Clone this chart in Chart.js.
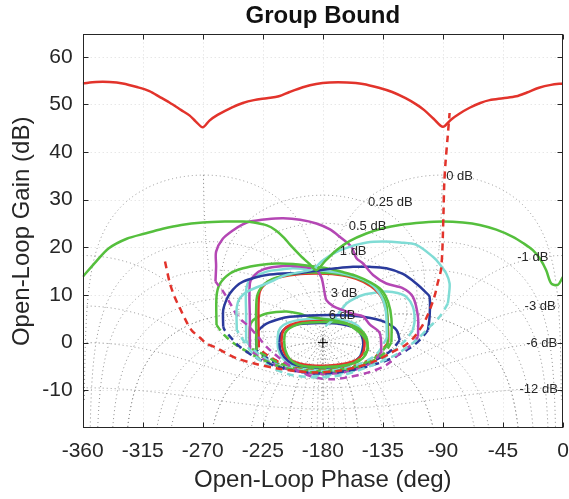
<!DOCTYPE html>
<html><head><meta charset="utf-8">
<script src="https://cdn.jsdelivr.net/npm/chart.js@4/dist/chart.umd.min.js"></script>
<style>html,body{margin:0;padding:0;background:#fff;}canvas{display:block;}</style>
</head><body>
<canvas id="c" width="569" height="499"></canvas>
<script>
const FONT = "'Liberation Sans', Arial, Helvetica, sans-serif";

// ---- axes ----
const xTickValues = [-360, -315, -270, -225, -180, -135, -90, -45, 0];
const yTickValues = [-10, 0, 10, 20, 30, 40, 50, 60];

// ---- Nichols grid definition ----
const mContoursDb = [6, 3, 1, 0.5, 0.25, 0, -1, -3, -6, -12, -20];
const nContoursDeg = [-1, -5, -10, -20, -30, -50, -90, -120, -150, -180, -210, -240, -270, -310, -330, -340, -350, -355, -359];
const gridLabelText = ['0 dB', '0.25 dB', '0.5 dB', '1 dB', '3 dB', '6 dB', '-1 dB', '-3 dB', '-6 dB', '-12 dB'];
const gridLabelPhase = [-87.5, -146.2, -160.6, -167.3, -174.1, -175.6, -34.3, -28.8, -27.6, -32.6];
const gridLabelGain = [34.8, 29.4, 24.3, 19.1, 10.3, 5.8, 17.9, 7.5, -0.2, -9.8];

// ---- bound curves: [phase deg, gain dB] ----
const redUpper = [[-360,54.4],[-350,54.7],[-340,54.7],[-330,54.4],[-318.7,53.6],[-310,52.8],[-302.4,51.6],[-295,50.4],[-286.1,48.8],[-280,47.7],[-275.2,46.4],[-270,45.2],[-265,46.6],[-258.9,47.8],[-248,49.4],[-240,50.3],[-231.7,50.9],[-222,51.3],[-213,51.7],[-205,52.6],[-195,53.6],[-185,54.3],[-175,54.6],[-162,54.6],[-150,54.3],[-138,53.5],[-128,52.6],[-118,51.3],[-110,50],[-104,48.8],[-97,47],[-90,45.3],[-84,46.8],[-78,48],[-70,49.3],[-62,50.3],[-55,50.9],[-45,51.3],[-35,51.7],[-27,52.5],[-18,53.5],[-9,54.1],[0,54.4]];
const redLower = [[-298.3,17],[-294.6,12.4],[-291,9.5],[-287.1,7.2],[-283,4.8],[-278.4,2.6],[-272,1],[-267.2,-0.2],[-260,-1.1],[-254.7,-1.9],[-244.7,-3.3],[-230,-4.5],[-215,-5.4],[-200,-6],[-185,-6.3],[-170,-6],[-155,-5.2],[-140,-3.8],[-128,-2],[-118,-0.5],[-112,1],[-106,3.3],[-102,5.4],[-99,7.5],[-96,10],[-94,12.4],[-91.5,15.2],[-90.5,19],[-90,22.9],[-89.5,28],[-89,33.4],[-88,38],[-86.5,43],[-85,48.2]];
const greenBig = [[-360,13.8],[-350,17],[-340.4,19.8],[-327,21.8],[-313.3,22.9],[-300,23.9],[-286.1,24.7],[-270,25.2],[-253.5,25.4],[-240,25.4],[-231.7,25.2],[-222,24.6],[-215.4,23.6],[-209,22],[-204.8,20.6],[-197,18.3],[-190,16.5],[-184.8,15.2],[-178,17.2],[-169.8,19.4],[-160,21.3],[-147.4,22.9],[-135,24],[-122.4,24.7],[-105,25.2],[-90,25.4],[-75,25.2],[-62.4,24.7],[-50,23.7],[-37.6,22.2],[-30,20.9],[-22.6,19.4],[-17,17.5],[-12.6,15.2],[-8.8,12.4],[-3.9,12.1],[-0.6,13.5],[0,13.8]];
const magOuterSolid = [[-260.5,12.8],[-260,16],[-260,19.1],[-255,21.8],[-247.2,23.6],[-240,24.8],[-234.7,25.4],[-222,25.9],[-209.8,26.1],[-197,25.8],[-184.8,25],[-175,23.8],[-167.3,22.2],[-158.6,20.1],[-154.8,17.7],[-149.9,16.6],[-142.4,14.2],[-132.4,12.4],[-119.9,11.4],[-112.5,9.6],[-108.7,5.4],[-108.7,1.2]];
const magOuterDash = [[-108.7,1.2],[-112.5,-0.2],[-122.4,-2.3],[-132.4,-4.7],[-145,-6.2],[-159.9,-7.2],[-172,-7.7],[-184.8,-7.4],[-197.3,-6.1],[-210,-3.8],[-222.2,-0.9],[-229.7,1.6],[-236,3.5],[-243.5,5.4],[-249,8],[-254.7,10.7],[-260.5,12.8]];
const magInnerSolid = [[-234.7,-1.6],[-234.7,5],[-234.7,12.4],[-231,14.2],[-225,15.3],[-215,15.9],[-203,16.1],[-192,15.8],[-184.8,15.2],[-181,13.6],[-178.6,10.3],[-177.3,8.9],[-172,7.6],[-165,6.8],[-157.4,6],[-149.9,5.5],[-144.9,3.8],[-137.4,2],[-136.1,-2.3]];
const magInnerDash = [[-136.1,-2.3],[-145,-4.5],[-160,-6],[-180,-6.6],[-200,-6],[-215,-4.8],[-228,-3],[-234.7,-1.6]];
const blueOuterSolid = [[-254.7,3.3],[-254.7,6.8],[-252.5,8.8],[-249.7,10.3],[-245,11.8],[-239.8,12.8],[-230,13.7],[-222.2,14.2],[-210,14.5],[-197.3,14.6],[-182.3,15.2],[-170,15.6],[-157.4,15.9],[-145,15.9],[-132.4,15.6],[-120,14.4],[-110,12.4],[-103,10.6],[-100,9.6],[-100,5.4],[-101.2,2.6]];
const blueOuterDash = [[-101.2,2.6],[-107.5,0.5],[-115,-1.2],[-130,-3.5],[-150,-5.3],[-170,-6.3],[-190,-6.4],[-210,-5.4],[-228,-3.5],[-242.2,-0.9],[-247.2,0.5],[-253.5,2.6],[-254.7,3.3]];
const blueInnerSolid = [[-229.7,-1.6],[-229.7,1.9],[-226,3.2],[-222.2,4],[-212,5],[-204.8,5.4],[-190,5.7],[-174.8,5.8],[-160,5.7],[-149.9,5.4],[-140,4.9],[-132.4,4.2],[-126,3],[-124,2.2],[-122.4,0.5]];
const blueInnerDash = [[-122.4,0.5],[-128.6,-1.6],[-140,-3.6],[-160,-5.6],[-180,-6.3],[-200,-5.9],[-215,-4.5],[-229.7,-1.6]];
const cyanOuterSolid = [[-244.5,2.6],[-244.5,7.5],[-242,9.4],[-236,10.8],[-222.2,12.4],[-207.2,14.2],[-195,14.9],[-187.3,15.4],[-179.8,17.3],[-170,19],[-159.9,20.1],[-147,21],[-134.9,21.2],[-122,21],[-109.9,20.5],[-97.5,18],[-92.5,16.5],[-87.5,14.5],[-85,12.4],[-85.5,10],[-86.3,8.2]];
const cyanOuterDash = [[-86.3,8.2],[-92.5,5.4],[-100,3.3],[-110,0.5],[-125,-2.5],[-145,-5],[-165,-6.8],[-185,-7.3],[-205,-6.7],[-220,-5],[-232,-2.5],[-244.5,2.6]];
const cyanMidSolid = [[-237.5,0.3],[-237.5,6],[-237.5,11],[-234.7,13.1],[-222.2,14.9],[-210,15.4],[-202.3,15.6],[-185,15.3],[-165,14.5],[-148,13],[-138,10.5],[-133,7],[-132,1]];
const cyanMidDash = [[-132,1],[-140,-2.5],[-155,-4.8],[-175,-5.9],[-195,-5.8],[-215,-4.6],[-230,-2],[-237.5,0.3]];
const cyanRightSolid = [[-178,3.5],[-172,4.8],[-167.3,6.4],[-162.3,8.2],[-156,9.3],[-149.9,10],[-140,10.5],[-132.4,10.7],[-124,10.4],[-117.4,9.6],[-112.5,7.5],[-111.2,4.7],[-112.5,2.6]];
const cyanRightDash = [[-112.5,2.6],[-118,0.5],[-128,-2],[-142,-4.4],[-158,-6],[-175,-6.8],[-190,-6.9]];
const greenOuterSolid = [[-259.7,3.7],[-259.7,9.6],[-257.2,12.3],[-249.6,14.5],[-239.8,15.6],[-227.2,16.3],[-215,16.6],[-202.3,16.5],[-190,16.1],[-177.3,15.6],[-165,14.8],[-155,14],[-144,12.6],[-136,11],[-131,8.5],[-128.6,5],[-128.6,0]];
const greenOuterDash = [[-128.6,0],[-135,-2.5],[-150,-4.8],[-170,-6],[-190,-6.2],[-210,-5.2],[-228,-3.2],[-245,-0.5],[-254,1.6],[-259.7,3.7]];
const greenMidSolid = [[-229.7,-1.6],[-229.7,9],[-226,11.6],[-218,13.3],[-205,14.3],[-190,14.7],[-175,14.6],[-160,14],[-148,12.8],[-138,10.8],[-132.5,8],[-131.5,4],[-131.5,-0.5]];
const greenMidDash = [[-131.5,-0.5],[-140,-3],[-155,-5],[-175,-5.9],[-195,-5.8],[-212,-4.4],[-224,-2.6],[-229.7,-1.6]];
const greenLowSolid = [[-234.7,-0.9],[-234.7,3.3],[-232.3,4.7],[-227,5.6],[-222.2,6.1],[-215,6.4],[-207.2,6.5],[-198,6.1],[-189.8,5.4],[-175,4.8],[-162.3,4],[-152,2],[-147.4,0.5],[-146,-1.5]];
const greenLowDash = [[-146,-1.5],[-155,-4],[-170,-5.4],[-190,-5.6],[-210,-4.8],[-225,-3],[-234.7,-0.9]];
const redMidSolid = [[-228,-1],[-228,9.5],[-225,11.8],[-215,13.5],[-200,14.3],[-185,14.5],[-170,14.3],[-155,13.4],[-144,11.8],[-136,9.5],[-132,6],[-131,2],[-131,0]];
const redMidDash = [[-131,0],[-140,-2.8],[-155,-4.8],[-175,-5.8],[-195,-5.7],[-212,-4.2],[-224,-2.2],[-228,-1]];
const ellipseRed = [[-211,0.3],[-210.3,2],[-207.5,3.2],[-201,4],[-192,4.4],[-180,4.5],[-168,4.3],[-159,3.7],[-152.5,2.6],[-149.2,1],[-148.8,-0.8],[-150.5,-2.5],[-155,-3.7],[-163,-4.4],[-175,-4.8],[-188,-4.8],[-199,-4.3],[-206,-3.2],[-209.8,-1.6],[-211,0.3]];
const ellipseGreen = [[-209,0.5],[-208.2,2],[-205,3],[-199,3.8],[-190,4.2],[-180,4.3],[-168,4.2],[-158,3.6],[-150.5,2.4],[-147,0.8],[-146.5,-1],[-148,-2.6],[-153,-3.9],[-162,-4.7],[-175,-5.1],[-189,-5.1],[-199,-4.6],[-205,-3.4],[-208.3,-1.5],[-209,0.5]];
const ellipseBlue = [[-212.5,0],[-211.5,1.8],[-208,3],[-201,3.7],[-192,4],[-180,4.1],[-167,3.9],[-158,3.3],[-152.5,2.2],[-150,0.6],[-150,-1.2],[-152,-2.9],[-158,-4.2],[-167,-5],[-180,-5.3],[-193,-5.1],[-203,-4.4],[-209,-3],[-212,-1.4],[-212.5,0]];
const ellipseCyan = [[-214,0.5],[-213,2.5],[-209.5,3.7],[-202,4.5],[-192,4.9],[-180,5],[-167,4.8],[-157,4.1],[-151.5,2.8],[-149.5,1],[-150,-1],[-152.5,-3],[-158.5,-4.5],[-168,-5.4],[-181,-5.8],[-194,-5.6],[-204,-4.7],[-210.5,-3.2],[-213.5,-1.3],[-214,0.5]];
const criticalPoint = [[-180, 0]];

// ---- styles ----
const RED = '#e2332b', GREEN = '#55bf3d', MAG = '#b447b4', BLUE = '#2a3a9c', CYAN = '#80dcd5';
const series = [
  [redUpper, RED, false], [redLower, RED, true], [greenBig, GREEN, false],
  [cyanOuterSolid, CYAN, false], [cyanOuterDash, CYAN, true],
  [magOuterSolid, MAG, false], [magOuterDash, MAG, true],
  [blueOuterSolid, BLUE, false], [blueOuterDash, BLUE, true],
  [greenOuterSolid, GREEN, false], [greenOuterDash, GREEN, true],
  [magInnerSolid, MAG, false], [magInnerDash, MAG, true],
  [cyanMidSolid, CYAN, false], [cyanMidDash, CYAN, true],
  [greenMidSolid, GREEN, false], [greenMidDash, GREEN, true],
  [redMidSolid, RED, false], [redMidDash, RED, true],
  [blueInnerSolid, BLUE, false], [blueInnerDash, BLUE, true],
  [greenLowSolid, GREEN, false], [greenLowDash, GREEN, true],
  [cyanRightSolid, CYAN, false], [cyanRightDash, CYAN, true],
  [ellipseGreen, GREEN, false], [ellipseRed, RED, false], [ellipseBlue, BLUE, false], [ellipseCyan, CYAN, false]
];

const datasets = series.map(([pts, color, dashed]) => ({
  data: pts.map(p => ({x: p[0], y: p[1]})),
  showLine: true, borderColor: color, backgroundColor: color, borderWidth: 2.5,
  borderDash: dashed ? [7, 5] : [], pointRadius: 0, fill: false, tension: 0.3,
  borderCapStyle: 'butt', borderJoinStyle: 'round'
}));
datasets.unshift({
  data: criticalPoint.map(p => ({x: p[0], y: p[1]})), showLine: false,
  pointStyle: 'cross', pointRadius: 5, borderColor: '#000', borderWidth: 1
});

const nicholsGrid = {
  id: 'nicholsGrid',
  beforeDatasetsDraw(chart) {
    const {ctx, chartArea: a, scales} = chart;
    const xs = scales.x, ys = scales.y;
    const P = v => xs.getPixelForValue(v), G = v => ys.getPixelForValue(Math.max(v, -80));
    ctx.save();
    ctx.beginPath(); ctx.rect(a.left, a.top, a.right - a.left, a.bottom - a.top); ctx.clip();
    ctx.lineWidth = 1;
    ctx.strokeStyle = '#dcdcdc'; ctx.setLineDash([1, 3]);
    ctx.beginPath();
    xTickValues.forEach(v => { const px = Math.round(P(v)) + 0.5; ctx.moveTo(px, a.top); ctx.lineTo(px, a.bottom); });
    yTickValues.forEach(v => { const py = Math.round(ys.getPixelForValue(v)) + 0.5; ctx.moveTo(a.left, py); ctx.lineTo(a.right, py); });
    ctx.stroke();
    ctx.strokeStyle = '#8e8e8e'; ctx.setLineDash([1, 3]);
    const R = Math.PI / 180, TOP = 35.25;
    const poly = pts => {
      ctx.beginPath(); let pen = false;
      for (const p of pts) {
        if (!p) { pen = false; continue; }
        const X = P(p[0]), Y = G(p[1]);
        if (pen) ctx.lineTo(X, Y); else { ctx.moveTo(X, Y); pen = true; }
      }
      ctx.stroke();
    };
    mContoursDb.forEach(db => {
      const m = Math.pow(10, db / 20), pts = [];
      if (db === 0) {
        for (let f = -269.95; f <= -90.05; f += 0.05) {
          const r = -1 / (2 * Math.cos(f * R)); const g = 20 * Math.log10(r);
          pts.push(g <= TOP ? [f, g] : null);
        }
      } else if (m < 1) {
        for (let f = -360; f <= 0.001; f += 0.5) {
          const c = Math.cos(f * R);
          const r = (m * m * c + m * Math.sqrt(m * m * c * c + 1 - m * m)) / (1 - m * m);
          pts.push([f, 20 * Math.log10(r)]);
        }
      } else {
        const th = Math.acos(Math.sqrt(1 - 1 / (m * m))) / R;
        const up = [], lo = [], N = 300;
        for (let i = 0; i <= N; i++) {
          const f = -180 - th + 2 * th * i / N, c = Math.cos(f * R);
          const D = Math.max(0, m * m * c * c + 1 - m * m);
          lo.push([f, 20 * Math.log10((m * m * c + m * Math.sqrt(D)) / (1 - m * m))]);
          up.push([f, 20 * Math.log10((m * m * c - m * Math.sqrt(D)) / (1 - m * m))]);
        }
        pts.push(...up, ...lo.reverse(), up[0]);
      }
      poly(pts);
    });
    nContoursDeg.forEach(psi => {
      if (psi === -180) { poly([[-180, -80], [-180, 0]]); return; }
      const s = Math.sin(psi * R), pts = [];
      for (let f = -360; f <= 0.001; f += 0.25) {
        const r = Math.sin((f - psi) * R) / s;
        if (r > 1e-4) { const g = 20 * Math.log10(r); pts.push(g <= TOP ? [f, g] : null); }
        else pts.push(null);
      }
      poly(pts);
    });
    ctx.restore();
  },
  afterDatasetsDraw(chart) {
    const {ctx, scales: {x, y}} = chart;
    ctx.save();
    ctx.font = '13px ' + FONT; ctx.fillStyle = '#262626';
    ctx.textAlign = 'left'; ctx.textBaseline = 'middle';
    gridLabelText.forEach((t, i) => ctx.fillText(t, x.getPixelForValue(gridLabelPhase[i]), y.getPixelForValue(gridLabelGain[i])));
    ctx.restore();
  }
};

const frame = {
  id: 'frame',
  afterDraw(chart) {
    const {ctx, chartArea: a, scales: {x, y}} = chart;
    ctx.save();
    ctx.strokeStyle = '#262626'; ctx.lineWidth = 1; ctx.setLineDash([]);
    const L = Math.round(a.left) + 0.5, Rr = Math.round(a.right) - 0.5, T = Math.round(a.top) + 0.5, B = Math.round(a.bottom) - 0.5;
    ctx.strokeRect(L, T, Rr - L, B - T);
    ctx.beginPath();
    xTickValues.forEach(v => { const px = Math.round(x.getPixelForValue(v)) + 0.5; ctx.moveTo(px, B); ctx.lineTo(px, B - 5); ctx.moveTo(px, T); ctx.lineTo(px, T + 5); });
    yTickValues.forEach(v => { const py = Math.round(y.getPixelForValue(v)) + 0.5; ctx.moveTo(L, py); ctx.lineTo(L + 5, py); ctx.moveTo(Rr, py); ctx.lineTo(Rr - 5, py); });
    ctx.stroke();
    ctx.restore();
  }
};

new Chart(document.getElementById('c'), {
  type: 'scatter',
  data: {datasets},
  options: {
    responsive: false, animation: false, devicePixelRatio: 1,
    layout: {padding: {left: 0, right: 5, top: 0, bottom: 0}},
    plugins: {
      legend: {display: false}, tooltip: {enabled: false},
      title: {display: true, text: 'Group Bound', color: '#111', fullSize: false,
        font: {family: FONT, size: 24, weight: 'bold', lineHeight: 1.1}, padding: {top: 3, bottom: 5}}
    },
    scales: {
      x: {
        type: 'linear', min: -360, max: 0,
        afterBuildTicks: s => { s.ticks = xTickValues.map(v => ({value: v})); },
        afterFit: s => { s.height = 70.7; s.paddingLeft = 0; s.paddingRight = 5; },
        ticks: {font: {family: FONT, size: 21}, color: '#262626', padding: 10, maxRotation: 0, autoSkip: false},
        grid: {display: false, drawTicks: false}, border: {display: false},
        title: {display: true, text: 'Open-Loop Phase (deg)', color: '#262626', font: {family: FONT, size: 24}, padding: {top: 0, bottom: 4.6}}
      },
      y: {
        type: 'linear', min: -18, max: 64.7,
        afterBuildTicks: s => { s.ticks = yTickValues.map(v => ({value: v})); },
        afterFit: s => { s.width = 82.7; s.paddingTop = 0; s.paddingBottom = 0; },
        ticks: {font: {family: FONT, size: 21}, color: '#262626', padding: 10, autoSkip: false},
        grid: {display: false, drawTicks: false}, border: {display: false},
        title: {display: true, text: 'Open-Loop Gain (dB)', color: '#262626', font: {family: FONT, size: 24}, padding: {top: 8, bottom: 0}}
      }
    }
  },
  plugins: [nicholsGrid, frame]
});
</script>
</body></html>
